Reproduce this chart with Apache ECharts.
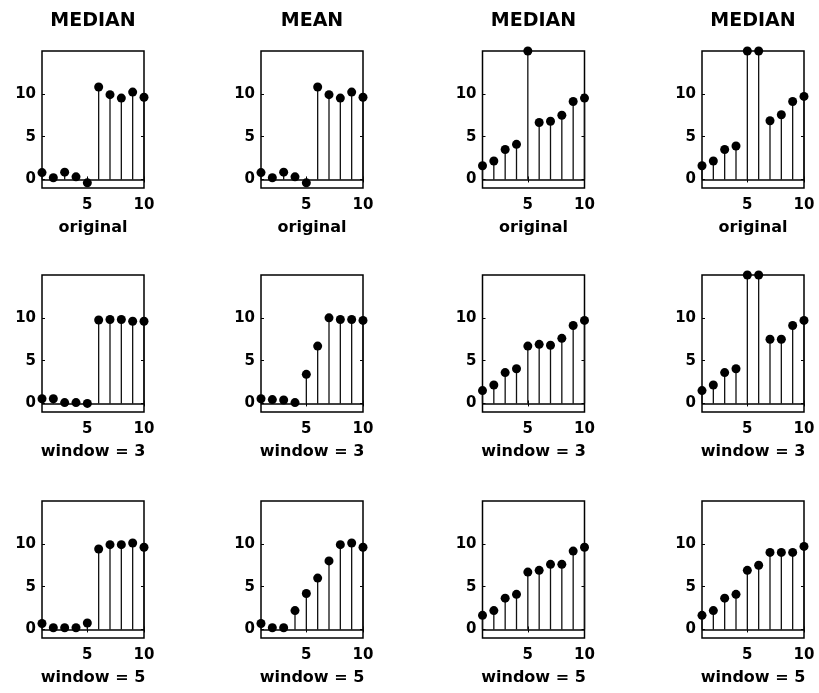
<!DOCTYPE html>
<html>
<head>
<meta charset="utf-8">
<script src="https://cdn.jsdelivr.net/npm/echarts@6/dist/echarts.min.js"></script>
<style>html,body{margin:0;padding:0;background:#fff;}#chart{width:819px;height:693px;}</style>
</head>
<body>
<div id="chart"></div>
<script>
// ---- data ----
const xValues = [1, 2, 3, 4, 5, 6, 7, 8, 9, 10];
const columnTitles = ['MEDIAN', 'MEAN', 'MEDIAN', 'MEDIAN'];
const rowLabels = ['original', 'window = 3', 'window = 5'];
const xTicks = [5, 10];
const yTicks = [0, 5, 10];

const stepOriginal      = [0.8, 0.2, 0.85, 0.3, -0.4, 10.8, 9.9, 9.5, 10.2, 9.6];
const stepMedianWin3    = [0.55, 0.55, 0.1, 0.1, 0.0, 9.75, 9.8, 9.8, 9.6, 9.6];
const stepMedianWin5    = [0.7, 0.2, 0.2, 0.2, 0.75, 9.4, 9.9, 9.9, 10.1, 9.6];
const stepMeanWin3      = [0.55, 0.45, 0.4, 0.1, 3.4, 6.7, 10.0, 9.8, 9.8, 9.7];
const stepMeanWin5      = [0.7, 0.2, 0.2, 2.2, 4.2, 6.0, 8.0, 9.9, 10.1, 9.6];
const rampOneOriginal   = [1.6, 2.15, 3.5, 4.1, 15, 6.65, 6.8, 7.5, 9.1, 9.5];
const rampOneMedianWin3 = [1.5, 2.15, 3.6, 4.05, 6.7, 6.9, 6.8, 7.6, 9.1, 9.7];
const rampOneMedianWin5 = [1.65, 2.2, 3.65, 4.1, 6.7, 6.9, 7.6, 7.6, 9.15, 9.6];
const rampTwoOriginal   = [1.6, 2.15, 3.5, 3.9, 15, 15, 6.85, 7.55, 9.1, 9.7];
const rampTwoMedianWin3 = [1.5, 2.15, 3.6, 4.05, 15, 15, 7.5, 7.5, 9.1, 9.7];
const rampTwoMedianWin5 = [1.65, 2.2, 3.65, 4.1, 6.9, 7.5, 9.0, 9.0, 9.0, 9.7];

// panels[row][col]
const panels = [
  [stepOriginal,   stepOriginal,   rampOneOriginal,   rampTwoOriginal],
  [stepMedianWin3, stepMeanWin3,   rampOneMedianWin3, rampTwoMedianWin3],
  [stepMedianWin5, stepMeanWin5,   rampOneMedianWin5, rampTwoMedianWin5]
];

// ---- layout ----
const colLeft = [42, 261, 482.5, 702];
const rowTop = [51, 275, 501];
const gw = 102, gh = 137;
const FONT = 'DejaVu Sans';

const grids = [], xAxes = [], yAxes = [], series = [], graphics = [];
let gi = 0;
for (let r = 0; r < 3; r++) {
  for (let c = 0; c < 4; c++) {
    grids.push({left: colLeft[c], top: rowTop[r], width: gw, height: gh,
      show: true, borderColor: '#000', borderWidth: 1.5, backgroundColor: 'transparent'});
    const tickStyle = {inside: true, length: 3, lineStyle: {color: '#000', width: 1}};
    xAxes.push({type: 'value', gridIndex: gi, min: 1, max: 10, position: 'bottom',
      axisLine: {show: false}, splitLine: {show: false},
      axisTick: Object.assign({customValues: xTicks}, tickStyle),
      axisLabel: {customValues: xTicks, margin: 10, fontSize: 15, fontWeight: 'bold', color: '#000', fontFamily: FONT},
      name: rowLabels[r], nameLocation: 'middle', nameGap: 32,
      nameTextStyle: {fontSize: 16, fontWeight: 'bold', color: '#000', fontFamily: FONT}});
    xAxes.push({type: 'value', gridIndex: gi, min: 1, max: 10, position: 'top',
      axisLine: {show: false}, splitLine: {show: false},
      axisTick: Object.assign({customValues: xTicks}, tickStyle),
      axisLabel: {show: false}});
    yAxes.push({type: 'value', gridIndex: gi, min: -1, max: 15, position: 'left',
      axisLine: {show: false}, splitLine: {show: false},
      axisTick: Object.assign({customValues: yTicks}, tickStyle),
      axisLabel: {customValues: yTicks, margin: 6, fontSize: 15, fontWeight: 'bold', color: '#000', fontFamily: FONT}});
    yAxes.push({type: 'value', gridIndex: gi, min: -1, max: 15, position: 'right',
      axisLine: {show: false}, splitLine: {show: false},
      axisTick: Object.assign({customValues: yTicks}, tickStyle),
      axisLabel: {show: false}});

    const vals = panels[r][c];
    const data = xValues.map((x, k) => [x, vals[k]]);
    series.push({type: 'custom', xAxisIndex: 2 * gi, yAxisIndex: 2 * gi, data: data, clip: false,
      renderItem: function (params, api) {
        const p0 = api.coord([api.value(0), 0]);
        const p1 = api.coord([api.value(0), api.value(1)]);
        return {type: 'line', shape: {x1: p0[0], y1: p0[1], x2: p1[0], y2: p1[1]},
          style: {stroke: '#111', lineWidth: 1.3}};
      },
      markLine: {silent: true, symbol: 'none', label: {show: false}, animation: false,
        lineStyle: {color: '#000', width: 1.5, type: 'solid'}, data: [{yAxis: 0}]}
    });
    series.push({type: 'scatter', xAxisIndex: 2 * gi, yAxisIndex: 2 * gi, data: data, clip: false,
      symbol: 'circle', symbolSize: 9, itemStyle: {color: '#000', opacity: 1}, z: 5});
    gi++;
  }
}
for (let c = 0; c < 4; c++) {
  graphics.push({type: 'text', x: colLeft[c] + gw / 2, y: 12,
    style: {text: columnTitles[c], font: 'bold 19px "DejaVu Sans"', fill: '#000', textAlign: 'center', textVerticalAlign: 'top'}});
}

const chart = echarts.init(document.getElementById('chart'), null, {renderer: 'canvas'});
chart.setOption({
  animation: false,
  backgroundColor: '#fff',
  grid: grids, xAxis: xAxes, yAxis: yAxes, series: series, graphic: graphics
});
</script>
</body>
</html>
